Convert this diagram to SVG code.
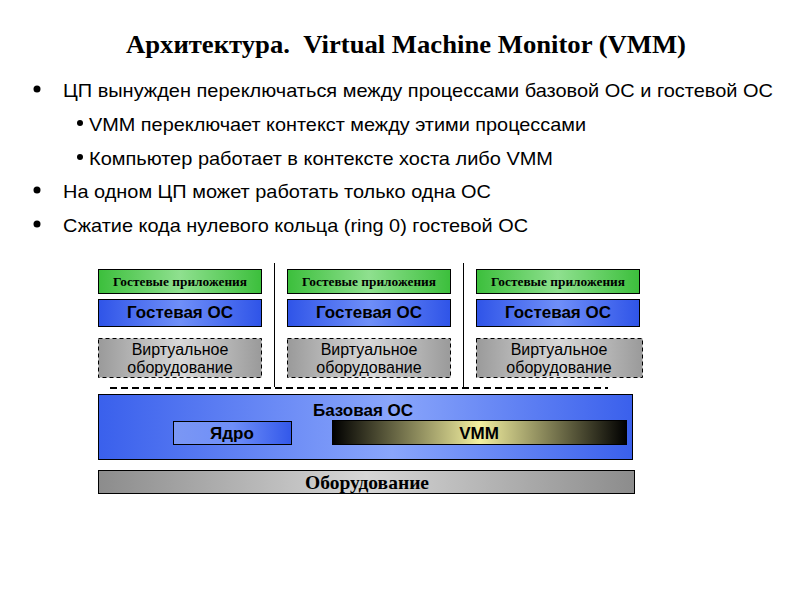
<svg xmlns="http://www.w3.org/2000/svg" width="800" height="600" viewBox="0 0 800 600">
<defs>
<linearGradient id="gGreen" x1="0" y1="0" x2="1" y2="0">
<stop offset="0" stop-color="#3cbf3c"/><stop offset="0.5" stop-color="#8fe08f"/><stop offset="1" stop-color="#3cbf3c"/>
</linearGradient>
<linearGradient id="gBlue" x1="0" y1="0" x2="1" y2="0">
<stop offset="0" stop-color="#2f54e8"/><stop offset="0.5" stop-color="#6f8ff8"/><stop offset="1" stop-color="#2f54e8"/>
</linearGradient>
<linearGradient id="gGray" x1="0" y1="0" x2="1" y2="0">
<stop offset="0" stop-color="#9a9a9a"/><stop offset="0.5" stop-color="#d8d8d8"/><stop offset="1" stop-color="#9a9a9a"/>
</linearGradient>
<linearGradient id="gBase" x1="0" y1="0" x2="1" y2="0">
<stop offset="0" stop-color="#3a60ec"/><stop offset="0.55" stop-color="#8aa6fb"/><stop offset="1" stop-color="#3a60ec"/>
</linearGradient>
<linearGradient id="gCore" x1="0" y1="0" x2="1" y2="0">
<stop offset="0" stop-color="#7b97f4"/><stop offset="0.5" stop-color="#6f8ff8"/><stop offset="1" stop-color="#3358ea"/>
</linearGradient>
<linearGradient id="gVmm" x1="0" y1="0" x2="1" y2="0">
<stop offset="0" stop-color="#000000"/><stop offset="0.5" stop-color="#f3f0a0"/><stop offset="1" stop-color="#000000"/>
</linearGradient>
<linearGradient id="gHw" x1="0" y1="0" x2="1" y2="0">
<stop offset="0" stop-color="#8c8c8c"/><stop offset="0.5" stop-color="#d6d6d6"/><stop offset="1" stop-color="#8c8c8c"/>
</linearGradient>
<style>
.title{font-family:"Liberation Serif",serif;font-weight:bold;font-size:25px;fill:#000}
.bt{font-family:"Liberation Sans",sans-serif;font-size:18.5px;fill:#000}
.app{font-family:"Liberation Serif",serif;font-weight:bold;font-size:12px;fill:#000}
.os{font-family:"Liberation Sans",sans-serif;font-weight:bold;font-size:17px;fill:#000}
.vh{font-family:"Liberation Sans",sans-serif;font-size:16px;fill:#000}
.hw{font-family:"Liberation Serif",serif;font-weight:bold;font-size:19.5px;fill:#000}
.box{stroke:#000;stroke-width:1}
.dash{stroke:#000;stroke-width:1;stroke-dasharray:4,3}
</style>
</defs>
<rect width="800" height="600" fill="#fff"/>
<text class="title" x="406" y="53" text-anchor="middle" textLength="560" lengthAdjust="spacingAndGlyphs" xml:space="preserve">Архитектура.  Virtual Machine Monitor (VMM)</text>
<g id="bullets">
<circle cx="37" cy="89" r="3.5"/>
<text class="bt" x="63" y="97" textLength="710" lengthAdjust="spacingAndGlyphs">ЦП вынужден переключаться между процессами базовой ОС и гостевой ОС</text>
<circle cx="80" cy="123" r="3"/>
<text class="bt" x="89" y="131" textLength="497" lengthAdjust="spacingAndGlyphs">VMM переключает контекст между этими процессами</text>
<circle cx="80" cy="157" r="3"/>
<text class="bt" x="89" y="165" textLength="464" lengthAdjust="spacingAndGlyphs">Компьютер работает в контексте хоста либо VMM</text>
<circle cx="37" cy="190" r="3.5"/>
<text class="bt" x="63" y="198" textLength="428" lengthAdjust="spacingAndGlyphs">На одном ЦП может работать только одна ОС</text>
<circle cx="37" cy="224" r="3.5"/>
<text class="bt" x="63" y="232" textLength="465" lengthAdjust="spacingAndGlyphs">Сжатие кода нулевого кольца (ring 0) гостевой ОС</text>
</g>
<g id="connectors">
<line x1="274.5" y1="263" x2="274.5" y2="387" stroke="#000" stroke-width="1"/>
<line x1="463.5" y1="263" x2="463.5" y2="387" stroke="#000" stroke-width="1"/>
<line x1="110" y1="388" x2="608" y2="388" stroke="#000" stroke-width="2" stroke-dasharray="7,4"/>
</g>
<g id="guest1">
<rect class="box" x="98.5" y="269.5" width="163" height="24" fill="url(#gGreen)"/>
<text class="app" x="180" y="285.5" text-anchor="middle" textLength="134" lengthAdjust="spacingAndGlyphs">Гостевые приложения</text>
<rect class="box" x="98.5" y="299.5" width="163" height="27" fill="url(#gBlue)"/>
<text class="os" x="180" y="318" text-anchor="middle">Гостевая ОС</text>
<rect class="dash" x="98.5" y="338.5" width="163" height="39" fill="url(#gGray)"/>
<text class="vh" x="180" y="355" text-anchor="middle">Виртуальное</text>
<text class="vh" x="180" y="373" text-anchor="middle">оборудование</text>
</g>
<g id="guest2">
<rect class="box" x="287.5" y="269.5" width="163" height="24" fill="url(#gGreen)"/>
<text class="app" x="369" y="285.5" text-anchor="middle" textLength="134" lengthAdjust="spacingAndGlyphs">Гостевые приложения</text>
<rect class="box" x="287.5" y="299.5" width="163" height="27" fill="url(#gBlue)"/>
<text class="os" x="369" y="318" text-anchor="middle">Гостевая ОС</text>
<rect class="dash" x="287.5" y="338.5" width="163" height="39" fill="url(#gGray)"/>
<text class="vh" x="369" y="355" text-anchor="middle">Виртуальное</text>
<text class="vh" x="369" y="373" text-anchor="middle">оборудование</text>
</g>
<g id="guest3">
<rect class="box" x="476.5" y="269.5" width="163" height="24" fill="url(#gGreen)"/>
<text class="app" x="558" y="285.5" text-anchor="middle" textLength="134" lengthAdjust="spacingAndGlyphs">Гостевые приложения</text>
<rect class="box" x="476.5" y="299.5" width="163" height="27" fill="url(#gBlue)"/>
<text class="os" x="558" y="318" text-anchor="middle">Гостевая ОС</text>
<rect class="dash" x="476.5" y="338.5" width="166" height="39" fill="url(#gGray)"/>
<text class="vh" x="559" y="355" text-anchor="middle">Виртуальное</text>
<text class="vh" x="559" y="373" text-anchor="middle">оборудование</text>
</g>
<g id="base-os">
<rect class="box" x="98.5" y="394.5" width="534" height="65" fill="url(#gBase)"/>
<text class="os" x="363" y="416" text-anchor="middle">Базовая ОС</text>
</g>
<g id="kernel">
<rect class="box" x="173.5" y="421.5" width="118" height="23" fill="url(#gCore)"/>
<text class="os" x="232" y="439" text-anchor="middle">Ядро</text>
</g>
<g id="vmm">
<rect class="box" x="332.5" y="420.5" width="294" height="24" fill="url(#gVmm)"/>
<text class="os" x="479" y="439" text-anchor="middle">VMM</text>
</g>
<g id="hardware">
<rect class="box" x="98.5" y="470.5" width="536" height="23" fill="url(#gHw)"/>
<text class="hw" x="367" y="489" text-anchor="middle">Оборудование</text>
</g>
</svg>
